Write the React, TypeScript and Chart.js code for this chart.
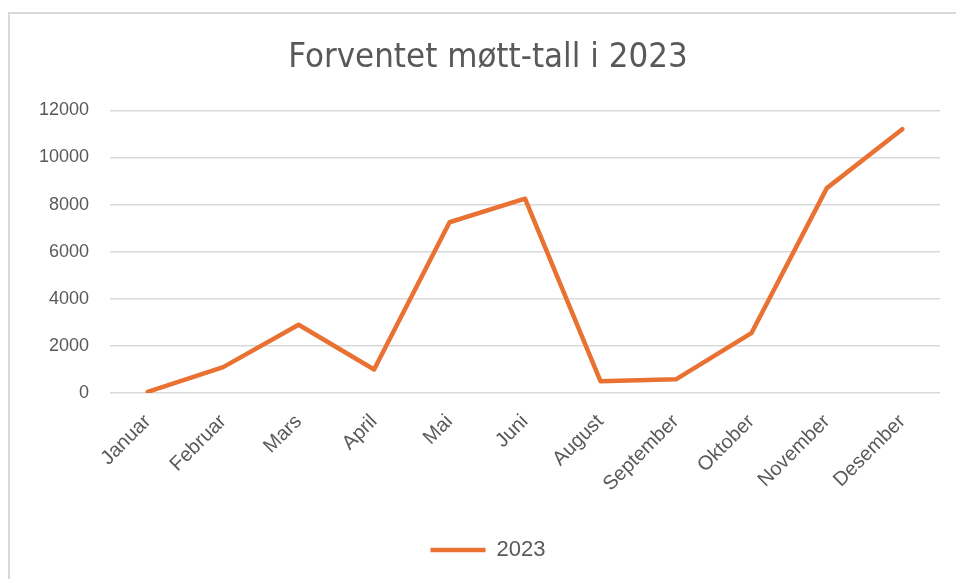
import React, { useEffect, useRef } from "react";
import { Chart, registerables } from "chart.js";

Chart.register(...registerables);

const titleText = "Forventet møtt-tall i 2023";
const seriesLabel = "2023";
const categories = [
  "Januar",
  "Februar",
  "Mars",
  "April",
  "Mai",
  "Juni",
  "August",
  "September",
  "Oktober",
  "November",
  "Desember",
];
const values2023 = [50, 1100, 2900, 1000, 7250, 8250, 500, 580, 2540, 8700, 11200];
const yTickValues = [0, 2000, 4000, 6000, 8000, 10000, 12000];

const ORANGE = "#E97132";
const TEXT = "#595959";
const GRID = "#d9d9d9";
const FONT = "'Liberation Sans', Arial, sans-serif";
const NARROW = "'Liberation Sans Narrow', 'DejaVu Sans Condensed', 'Liberation Sans', sans-serif";

export default function App() {
  const ref = useRef<HTMLCanvasElement | null>(null);

  useEffect(() => {
    const canvas = ref.current;
    if (!canvas) return;
    const chart = new Chart(canvas, {
      type: "line",
      data: {
        labels: categories,
        datasets: [
          {
            label: seriesLabel,
            data: values2023,
            borderColor: ORANGE,
            backgroundColor: ORANGE,
            borderWidth: 4.5,
            borderCapStyle: "round",
            borderJoinStyle: "round",
            pointRadius: 0,
            pointHoverRadius: 0,
            tension: 0,
            fill: false,
          },
        ],
      },
      options: {
        animation: false,
        responsive: false,
        maintainAspectRatio: false,
        layout: { padding: { left: 26, right: 26, top: 0, bottom: 8 } },
        plugins: {
          title: {
            display: true,
            text: titleText,
            color: TEXT,
            font: { family: NARROW, size: 34.5, weight: "normal" },
            padding: { top: 23, bottom: 32 },
          },
          legend: {
            display: true,
            position: "bottom",
            labels: {
              color: TEXT,
              font: { family: FONT, size: 22 },
              usePointStyle: true,
              pointStyle: "line",
              pointStyleWidth: 55,
              boxHeight: 4,
              padding: 10,
            },
          },
          tooltip: { enabled: false },
        },
        scales: {
          x: {
            offset: true,
            grid: { display: false, drawTicks: false },
            border: { display: false },
            ticks: {
              color: TEXT,
              font: { family: FONT, size: 20 },
              maxRotation: 45,
              minRotation: 45,
              autoSkip: false,
              padding: 17,
            },
            afterFit: (scale: any) => {
              scale.height = 136;
            },
          },
          y: {
            min: 0,
            max: 12000,
            grid: { color: GRID, lineWidth: 1.5, drawTicks: false },
            border: { display: false },
            afterBuildTicks: (scale: any) => {
              scale.ticks = yTickValues.map((v) => ({ value: v }));
            },
            ticks: {
              color: TEXT,
              font: { family: FONT, size: 18 },
              padding: 21,
              callback: (v: any) => String(v),
            },
            afterFit: (scale: any) => {
              scale.width = 74;
            },
          },
        },
      },
    });
    return () => chart.destroy();
  }, []);

  return (
    <div
      style={{
        position: "fixed",
        left: 8,
        top: 12,
        width: 960,
        height: 580,
        borderLeft: `2px solid ${GRID}`,
        borderTop: `2px solid ${GRID}`,
        background: "#fff",
        overflow: "hidden",
      }}
    >
      <canvas ref={ref} width={956} height={565} style={{ display: "block" }} />
    </div>
  );
}
